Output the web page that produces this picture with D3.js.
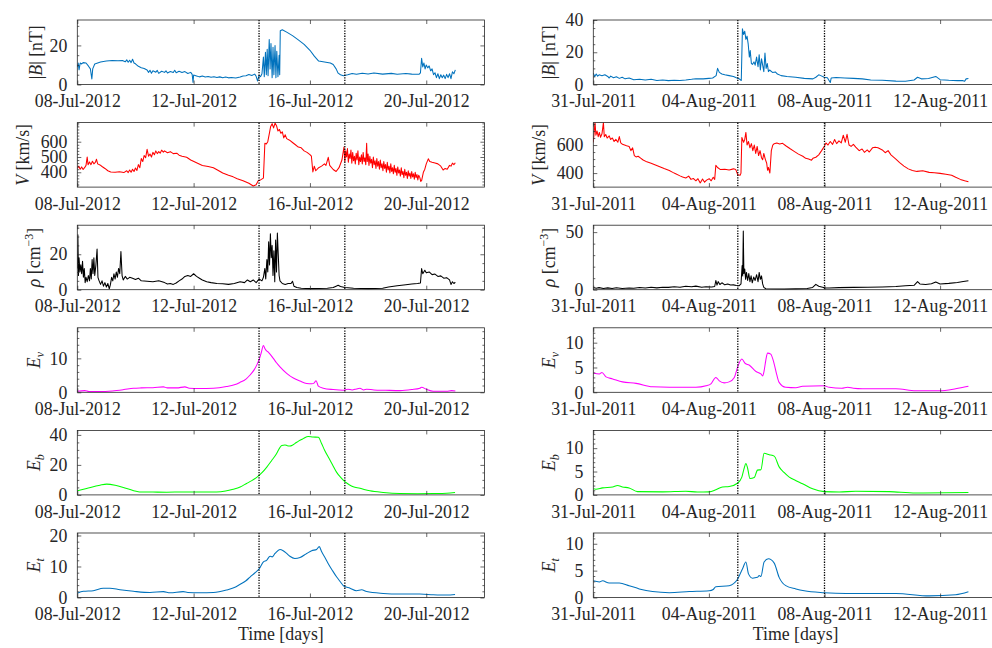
<!DOCTYPE html>
<html><head><meta charset="utf-8">
<script src="https://cdn.jsdelivr.net/npm/d3@7"></script>
<style>
body{margin:0;background:#fff}
svg{display:block}
text{fill:#262626}
</style>
</head><body>
<svg id="c" width="992" height="648"></svg>
<script>
// ---------------- DATA (day offset from column start, value) ----------------
const startL = [2012, 6, 8];   // 08-Jul-2012
const startR = [2011, 6, 31];  // 31-Jul-2011
const xTickDays = [0, 4, 8, 12];
const eventsL = [6.25, 9.2];
const eventsR = [5.0, 8.0];

const bL = [[0,9],[0.03,11],[0.06,7.5],[0.1,11],[0.15,10.5],[0.2,11.2],[0.3,11],[0.38,9.5],[0.45,8],[0.5,2.8],[0.53,8],[0.6,10.5],[0.7,11],[0.8,11.5],[0.9,11.8],[1.0,12],[1.2,12.3],[1.4,12.1],[1.55,12.3],[1.65,11.6],[1.7,12.6],[1.75,11.4],[1.8,12.4],[1.85,11.2],[1.9,12.9],[1.95,11],[2.0,10.6],[2.1,9.3],[2.2,8.6],[2.3,8.2],[2.4,7.4],[2.45,6.2],[2.5,7.3],[2.55,5.8],[2.6,7],[2.7,6.3],[2.75,7.2],[2.8,5.7],[2.9,6.8],[3.0,6.2],[3.05,7],[3.1,5.9],[3.2,6.6],[3.3,6.1],[3.35,7.3],[3.4,6],[3.5,6.8],[3.6,6.1],[3.7,6.6],[3.8,5.6],[3.9,6.2],[3.95,5.2],[3.98,1],[4.0,4.8],[4.1,4.4],[4.2,3.9],[4.3,4.3],[4.4,3.8],[4.5,4.1],[4.6,3.7],[4.7,4.0],[4.8,3.6],[4.9,3.9],[5.0,3.5],[5.1,3.8],[5.2,3.4],[5.3,3.6],[5.45,3.3],[5.6,3.8],[5.7,4.3],[5.8,4.5],[5.9,5.1],[6.0,4.6],[6.1,5.3],[6.15,4.2],[6.2,1.8],[6.25,4.6],[6.3,4],[6.35,5.5],[6.4,14],[6.43,4],[6.47,16.5],[6.5,5],[6.53,18],[6.56,4.5],[6.6,23],[6.63,8],[6.66,21],[6.7,3.5],[6.73,19],[6.76,5],[6.8,20],[6.83,3.5],[6.86,17],[6.9,4],[6.94,15],[6.96,5],[6.98,27.5],[7.05,28],[7.2,26.8],[7.4,25],[7.6,22.8],[7.8,20.5],[8.0,17.5],[8.15,14.5],[8.3,12],[8.5,11.5],[8.7,11],[8.8,10.2],[8.9,8],[8.97,5.8],[9.05,5],[9.15,4.5],[9.3,5],[9.45,5.6],[9.6,5.2],[9.8,5.8],[10,5.4],[10.2,5.9],[10.5,5.3],[10.8,5.7],[11,5.2],[11.3,5.6],[11.5,5.3],[11.75,5.2],[11.8,6],[11.84,13.4],[11.88,9],[11.92,11],[11.96,8],[12.0,10],[12.05,8.5],[12.1,9.5],[12.15,7],[12.2,8],[12.25,5],[12.3,6],[12.35,3.5],[12.4,5.5],[12.45,3],[12.5,5],[12.55,3.5],[12.6,4.8],[12.65,3],[12.7,5.2],[12.75,3.5],[12.8,5.5],[12.85,3],[12.9,6.5],[12.95,5.5],[13.0,7.5]];

const vL = [[0,425],[0.05,440],[0.1,420],[0.15,435],[0.2,418],[0.25,430],[0.3,445],[0.34,500],[0.37,450],[0.42,468],[0.47,450],[0.52,472],[0.57,455],[0.62,465],[0.66,485],[0.7,455],[0.78,448],[0.85,438],[0.95,425],[1.05,410],[1.15,402],[1.3,400],[1.45,403],[1.6,398],[1.7,410],[1.75,398],[1.8,415],[1.85,400],[1.9,420],[1.95,405],[2.0,428],[2.05,412],[2.1,450],[2.15,430],[2.2,490],[2.25,470],[2.3,510],[2.35,495],[2.4,550],[2.45,505],[2.5,520],[2.55,500],[2.6,530],[2.65,515],[2.7,540],[2.75,522],[2.8,535],[2.85,525],[2.9,545],[2.96,532],[3.0,540],[3.1,528],[3.2,535],[3.3,522],[3.42,525],[3.5,512],[3.6,505],[3.76,498],[3.9,480],[4.1,462],[4.3,445],[4.5,438],[4.68,430],[4.85,412],[5.0,395],[5.2,380],[5.36,370],[5.5,358],[5.7,345],[5.9,328],[6.05,310],[6.15,318],[6.22,345],[6.3,350],[6.4,362],[6.45,590],[6.5,585],[6.55,600],[6.6,650],[6.65,700],[6.7,718],[6.75,690],[6.8,722],[6.85,705],[6.9,670],[6.95,680],[7.0,655],[7.05,665],[7.1,625],[7.15,645],[7.2,620],[7.3,610],[7.4,595],[7.5,580],[7.6,565],[7.7,560],[7.8,540],[7.9,530],[8.0,515],[8.05,505],[8.1,402],[8.15,440],[8.2,410],[8.3,430],[8.4,440],[8.5,455],[8.55,445],[8.63,498],[8.68,445],[8.8,418],[8.9,405],[9.0,430],[9.1,480],[9.17,565],[9.2,470],[9.23,540],[9.26,500],[9.29,555],[9.32,465],[9.35,520],[9.38,490],[9.41,545],[9.44,460],[9.47,530],[9.5,475],[9.53,505],[9.56,455],[9.59,525],[9.62,480],[9.65,540],[9.68,450],[9.71,500],[9.74,470],[9.77,515],[9.8,455],[9.83,530],[9.86,470],[9.89,495],[9.92,450],[9.95,590],[9.97,470],[10.0,520],[10.03,445],[10.06,505],[10.09,460],[10.12,485],[10.15,430],[10.18,500],[10.21,450],[10.24,475],[10.27,425],[10.3,490],[10.33,440],[10.36,470],[10.39,420],[10.42,480],[10.45,430],[10.48,455],[10.51,410],[10.54,470],[10.57,425],[10.6,450],[10.63,400],[10.66,465],[10.69,415],[10.72,440],[10.75,395],[10.78,455],[10.81,405],[10.84,430],[10.87,390],[10.9,445],[10.93,400],[10.96,425],[10.99,380],[11.02,435],[11.05,395],[11.08,415],[11.11,375],[11.14,430],[11.17,385],[11.2,405],[11.23,365],[11.26,420],[11.29,380],[11.32,400],[11.35,360],[11.38,410],[11.41,375],[11.44,395],[11.47,360],[11.5,405],[11.53,370],[11.56,390],[11.59,355],[11.62,400],[11.65,365],[11.68,385],[11.71,350],[11.74,380],[11.78,365],[11.81,340],[11.84,345],[11.9,400],[11.95,420],[12.0,455],[12.07,488],[12.12,470],[12.2,465],[12.3,460],[12.4,455],[12.5,440],[12.58,415],[12.65,425],[12.72,420],[12.8,445],[12.85,440],[12.9,460],[12.95,450],[13.0,462]];

const rhoL = [[0,12],[0.02,31],[0.04,8],[0.06,18],[0.09,10],[0.12,14],[0.15,9],[0.18,16],[0.21,7],[0.24,12],[0.27,4],[0.3,7],[0.34,4.5],[0.38,8],[0.42,5],[0.45,12],[0.48,6],[0.51,17],[0.54,9],[0.57,18],[0.6,8],[0.64,14],[0.68,23],[0.71,7],[0.75,5],[0.8,3],[0.85,5],[0.9,2],[0.95,4],[1.0,1.5],[1.05,3.5],[1.1,0.5],[1.14,3],[1.18,7],[1.22,5],[1.26,9],[1.3,6],[1.34,10],[1.38,7],[1.42,12],[1.46,9],[1.5,21.5],[1.54,8],[1.58,5.5],[1.65,7.5],[1.72,6],[1.8,7],[1.9,6.5],[2.0,5.8],[2.1,6.5],[2.2,5],[2.4,4.8],[2.6,4.5],[2.8,5],[3.0,4],[3.1,3.2],[3.2,3.5],[3.3,3],[3.4,3.8],[3.5,5],[3.6,6],[3.7,7.5],[3.8,8],[3.9,7.5],[4.0,9],[4.1,7.5],[4.2,6.5],[4.3,5.5],[4.45,4.5],[4.6,4],[4.8,3.5],[5.0,3.4],[5.2,3],[5.4,3.5],[5.6,4.5],[5.75,4],[5.85,5.5],[5.95,4.5],[6.05,5.5],[6.15,4],[6.25,6],[6.35,5],[6.4,7],[6.45,12],[6.48,6],[6.52,17],[6.55,10],[6.58,27],[6.61,14],[6.64,31.5],[6.67,18],[6.7,25],[6.73,8],[6.76,22],[6.79,4.5],[6.82,28],[6.85,10],[6.88,32],[6.91,20],[6.94,8],[6.97,5],[7.05,3.5],[7.15,3],[7.25,3.5],[7.35,3.5],[7.4,4.8],[7.45,2],[7.55,1.2],[7.7,0.8],[8.0,0.6],[8.3,0.7],[8.6,0.8],[8.8,1.2],[8.9,2],[8.97,2.5],[9.05,1.8],[9.2,1.2],[9.5,0.8],[10,0.6],[10.5,0.8],[10.7,1.5],[11.0,2.2],[11.3,2.8],[11.5,3.2],[11.7,3.5],[11.8,3.8],[11.84,11.9],[11.88,9],[11.95,11],[12.0,9.5],[12.1,10],[12.2,8.5],[12.3,8.8],[12.4,7.5],[12.5,7.8],[12.6,6.5],[12.7,6.8],[12.8,5.5],[12.85,3],[12.9,4.5],[12.95,3.5],[13.0,4.2]];

const evL = [[0,0.3],[0.26,0.5],[0.4,0.2],[0.78,0.2],[1.2,0.4],[1.6,0.8],[1.93,1.2],[2.2,1.3],[2.6,1.35],[2.96,1.6],[3.1,1.3],[3.42,1.3],[3.7,1.6],[3.85,1.2],[4.2,1.1],[4.68,1.2],[5.13,1.7],[5.4,2.2],[5.59,2.9],[5.8,3.9],[5.94,5.1],[6.08,6.6],[6.17,8],[6.26,9.8],[6.33,11.8],[6.4,13.8],[6.45,12.9],[6.51,12.2],[6.56,11.9],[6.62,11.3],[6.74,10],[6.85,8.7],[6.97,7.5],[7.2,5.6],[7.43,4.2],[7.66,3.3],[7.89,2.6],[8.06,2.5],[8.15,2.8],[8.21,3.4],[8.29,1.8],[8.46,1.2],[8.8,0.8],[9.15,0.6],[9.3,0.9],[9.45,0.7],[9.6,1.0],[9.72,1.2],[9.85,0.7],[9.95,0.9],[10.2,0.7],[10.6,0.6],[11.1,0.5],[11.5,0.8],[11.78,1.2],[11.84,1.5],[12.0,0.9],[12.24,0.3],[12.7,0.3],[12.87,0.5],[13.0,0.4]];

const ebL = [[0,2.7],[0.32,4.3],[0.78,6.5],[1.01,7.2],[1.3,6.5],[1.7,4.3],[2.15,2],[2.6,1.9],[3.07,1.8],[3.64,2],[4.2,2],[4.79,2],[5.1,2.6],[5.36,3.8],[5.6,5.3],[5.82,7.6],[6.0,9.5],[6.17,11.7],[6.35,14.8],[6.51,18.4],[6.68,22.8],[6.85,27.4],[6.95,31],[7.03,33],[7.14,33.3],[7.22,32.8],[7.31,32.6],[7.4,33.2],[7.48,34.2],[7.62,36],[7.77,37.5],[7.94,39],[8.1,38.6],[8.29,38.4],[8.4,34.2],[8.5,30],[8.63,25.2],[8.78,20],[8.92,15],[9.05,11.8],[9.2,8.8],[9.35,6.8],[9.49,5.4],[9.72,4.5],[9.9,3.4],[10.06,2.7],[10.52,1.6],[11.09,0.9],[11.7,0.8],[12.24,0.9],[12.7,1.1],[12.99,1.6]];

const etL = [[0,1.4],[0.21,2],[0.55,2.2],[0.89,3],[1.12,3],[1.47,2.5],[1.93,2],[2.5,1.6],[2.96,1.9],[3.19,1.5],[3.64,1.9],[3.8,1.6],[4.22,1.5],[4.68,1.6],[5.13,2.4],[5.4,3.2],[5.59,4.2],[5.8,5.4],[5.94,6.6],[6.1,7.9],[6.26,9.3],[6.4,11.5],[6.51,12],[6.63,13.3],[6.7,13.1],[6.8,14.2],[6.97,15.5],[7.08,15.1],[7.2,14.2],[7.31,13.3],[7.48,12.6],[7.66,12.9],[7.89,14.2],[8.06,15.1],[8.23,15.5],[8.32,16.4],[8.4,14.8],[8.52,12.8],[8.63,10.9],[8.78,8.6],[8.92,6.6],[9.05,5],[9.15,3.8],[9.38,3],[9.6,2.2],[9.78,2.5],[9.95,1.9],[10.52,1.3],[11.09,1.1],[11.78,1.1],[12.24,0.9],[12.7,0.8],[12.99,1.0]];

const bR = [[0,7],[0.05,5],[0.1,6.5],[0.15,5.2],[0.2,6],[0.3,5.5],[0.4,6],[0.5,5],[0.55,4],[0.6,5.2],[0.7,4.2],[0.8,4.8],[0.9,3.8],[1.0,4.5],[1.1,3.5],[1.24,4],[1.4,3],[1.6,3.3],[1.8,2.8],[2.0,3.2],[2.2,2.5],[2.4,2.8],[2.6,2.4],[2.8,2.6],[3.0,2.5],[3.2,2.8],[3.4,3.2],[3.55,3.6],[3.8,3.5],[4.0,3.8],[4.13,4],[4.25,5.5],[4.3,10],[4.36,7.5],[4.45,6.5],[4.55,6],[4.7,5.5],[4.85,5],[4.95,4.2],[5.05,3.5],[5.12,2.5],[5.16,34.5],[5.2,31],[5.24,33],[5.28,28],[5.32,30],[5.36,25],[5.4,17],[5.43,21],[5.47,13],[5.51,12.5],[5.56,14],[5.6,12],[5.65,17],[5.7,11],[5.74,18.5],[5.78,9],[5.82,16],[5.86,12],[5.9,8],[5.94,19.5],[5.98,10],[6.02,13],[6.06,8],[6.1,9],[6.2,7.5],[6.3,7.8],[6.37,6.5],[6.5,5.5],[6.7,5],[7.0,4.5],[7.3,3.8],[7.6,3.5],[7.7,4.5],[7.8,6],[7.87,5.5],[7.99,4.5],[8.1,4.2],[8.2,1.2],[8.23,4],[8.4,4.3],[8.7,4],[9.0,3.8],[9.31,3.5],[9.6,2.8],[10.0,2.6],[10.47,2.1],[10.8,2],[11.1,2.8],[11.22,4.5],[11.35,3.5],[11.6,3.7],[11.85,5],[12.0,3],[12.3,2.6],[12.6,2.4],[12.77,2.5],[12.85,2],[12.9,3.5],[12.98,3.7]];

const vR = [[0,619],[0.03,690],[0.06,760],[0.09,670],[0.13,700],[0.17,660],[0.21,690],[0.25,655],[0.3,680],[0.35,760],[0.38,660],[0.43,675],[0.48,650],[0.55,665],[0.6,640],[0.66,650],[0.72,625],[0.78,640],[0.85,620],[0.9,660],[0.95,615],[1.01,605],[1.08,600],[1.15,595],[1.24,590],[1.3,560],[1.36,580],[1.42,525],[1.48,515],[1.55,520],[1.65,505],[1.71,495],[1.85,480],[2.0,470],[2.15,458],[2.3,445],[2.45,432],[2.63,418],[2.75,405],[2.85,395],[3.0,380],[3.09,372],[3.2,365],[3.3,378],[3.38,355],[3.46,362],[3.55,345],[3.62,360],[3.7,330],[3.78,358],[3.85,335],[3.92,350],[4.01,360],[4.08,345],[4.15,370],[4.2,355],[4.24,455],[4.3,440],[4.4,425],[4.55,428],[4.7,422],[4.85,430],[4.93,425],[5.0,388],[5.08,384],[5.11,400],[5.14,654],[5.2,620],[5.24,640],[5.28,690],[5.32,600],[5.37,625],[5.42,580],[5.47,610],[5.52,560],[5.57,600],[5.62,540],[5.67,590],[5.72,525],[5.77,560],[5.82,510],[5.86,495],[5.9,540],[5.95,500],[6.0,470],[6.03,420],[6.06,440],[6.11,400],[6.16,560],[6.21,600],[6.26,610],[6.35,615],[6.45,608],[6.55,612],[6.66,595],[6.8,575],[6.95,555],[7.1,535],[7.25,520],[7.35,505],[7.45,500],[7.55,492],[7.6,505],[7.7,513],[7.8,530],[7.9,560],[7.99,590],[8.05,615],[8.12,600],[8.2,625],[8.28,605],[8.35,640],[8.42,610],[8.5,630],[8.58,615],[8.65,670],[8.72,620],[8.78,677],[8.85,600],[8.92,590],[9.0,605],[9.08,585],[9.2,560],[9.3,572],[9.38,548],[9.48,565],[9.55,550],[9.66,580],[9.75,585],[9.85,580],[10.0,565],[10.1,545],[10.2,560],[10.3,530],[10.47,500],[10.6,475],[10.75,450],[10.9,430],[11.04,419],[11.2,412],[11.4,416],[11.62,405],[11.8,403],[12.0,398],[12.2,392],[12.4,385],[12.54,370],[12.7,355],[12.85,345],[12.98,338]];

const rhoR = [[0,2],[0.1,1.2],[0.2,1.8],[0.35,1.1],[0.5,1.6],[0.65,1.0],[0.8,1.7],[1.0,1.1],[1.24,1.5],[1.4,1.2],[1.6,1.9],[1.8,1.4],[2.0,2.1],[2.2,1.6],[2.4,2.2],[2.6,2.0],[2.8,2.6],[3.0,2.2],[3.2,3.0],[3.4,2.5],[3.55,3.1],[3.75,2.2],[3.9,2.6],[4.1,2.3],[4.2,2.8],[4.24,8],[4.28,4],[4.32,7],[4.38,4.5],[4.45,6],[4.55,4.2],[4.65,5],[4.75,4],[4.85,4.2],[4.95,3.7],[5.05,3.5],[5.11,5],[5.15,21],[5.17,12],[5.19,51],[5.21,14],[5.24,18],[5.27,9],[5.3,15],[5.34,8],[5.38,14],[5.42,7],[5.46,12],[5.5,6],[5.55,11],[5.6,8],[5.65,13],[5.7,7],[5.74,15],[5.78,9],[5.82,12],[5.86,5],[5.9,2],[5.97,0.8],[6.2,0.6],[6.6,0.5],[7.0,0.7],[7.4,1.0],[7.59,2],[7.7,4.6],[7.8,3],[8.0,1.6],[8.16,1.4],[8.5,1.8],[9.0,2],[9.5,2.2],[10.0,2.4],[10.47,2.8],[10.8,3.4],[11.1,3.8],[11.22,7],[11.3,5],[11.5,4.6],[11.7,5.2],[11.85,6.6],[12.0,5],[12.3,5.5],[12.6,6.3],[12.8,7.2],[12.98,7.8]];

const evR = [[0,3.9],[0.21,3.7],[0.3,4.0],[0.44,3.1],[0.67,2.7],[1.01,2.1],[1.48,1.8],[2.05,1.1],[2.63,1.0],[3.55,1.0],[3.9,1.3],[4.07,1.7],[4.24,3.0],[4.36,2.3],[4.53,1.9],[4.7,2.1],[4.88,3.0],[4.99,5.0],[5.14,6.7],[5.26,5.8],[5.39,5.5],[5.63,4.2],[5.8,3.7],[5.86,3.3],[5.91,4.3],[5.97,6.5],[6.03,7.9],[6.14,7.7],[6.26,5.7],[6.35,3.5],[6.43,2.0],[6.66,1.0],[7.01,0.9],[7.24,1.2],[7.99,1.3],[8.16,1.0],[8.6,0.8],[8.8,1.0],[9.0,0.8],[9.31,0.7],[10.47,0.7],[11.16,0.3],[11.97,0.3],[12.54,0.7],[12.98,1.2]];

const ebR = [[0,1.3],[0.09,1.2],[0.32,1.5],[0.67,1.7],[0.84,2.0],[1.01,1.7],[1.24,1.5],[1.53,0.7],[2.4,0.65],[3.2,0.8],[3.6,0.6],[4.01,0.65],[4.24,1.1],[4.47,1.7],[4.7,1.8],[4.99,2.5],[5.14,3.8],[5.22,5.7],[5.28,6.7],[5.34,5.7],[5.42,3.5],[5.57,3.7],[5.68,5.3],[5.8,5.4],[5.91,8.9],[6.09,8.6],[6.26,8.3],[6.43,6],[6.6,4.8],[6.78,3.8],[7.0,3.1],[7.24,2.4],[7.59,1.3],[7.99,0.7],[8.51,0.6],[9.08,0.8],[10.24,0.7],[11.16,0.4],[12.98,0.5]];

const etR = [[0,3.1],[0.21,2.9],[0.32,3.1],[0.55,2.7],[0.9,2.7],[1.24,2.2],[1.59,1.6],[2.05,1.1],[2.63,0.9],[3.32,1.1],[4.01,1.25],[4.15,1.5],[4.24,2.0],[4.7,2.2],[4.99,3.4],[5.16,5.3],[5.28,6.6],[5.37,4.4],[5.51,3.6],[5.68,3.75],[5.74,4.1],[5.8,3.9],[5.91,6.6],[6.06,7.2],[6.26,6.4],[6.43,3.75],[6.66,2.2],[7.01,1.6],[7.3,1.25],[7.99,0.9],[8.74,0.75],[10.47,0.75],[11.62,0.3],[12.54,0.5],[12.98,1.05]];

// y-axis ranges and tick values
const yDomL = [[0,33],[303,725],[0,36.4],[0,19],[0,43],[0,20.8]];
const yDomR = [[0,40],[300,760],[0,56],[0,13],[0,13.8],[0,12]];
const yTicksL = [[0,20],[400,500,600],[0,20],[0,10],[0,20,40],[0,10,20]];
const yTicksR = [[0,20,40],[400,600],[0,50],[0,5,10],[0,5,10],[0,5,10]];
const yMinorL = [5,20,5,2,5,2];
const yMinorR = [5,50,10,1,1,1];

// ---------------- STYLE / LAYOUT ----------------
const colors = ["#0072BD","#FF0000","#000000","#FF00FF","#00FF00","#0072BD"];
const labelKinds = ["B","V","rho","Ev","Eb","Et"];
const seriesL = [bL, vL, rhoL, evL, ebL, etL];
const seriesR = [bR, vR, rhoR, evR, ebR, etR];
const axisCol = "#262626";
const FAM = '"Liberation Serif", Tinos, "Times New Roman", Times, "DejaVu Serif", "Noto Serif", FreeSerif, Georgia, serif';
const top0 = 20, rowStep = 102.6, ph = 64.5;

const svg = d3.select("#c");
const DAY = 864e5;

const probe = svg.append("text").attr("font-size", 18).style("font-family", FAM).text("08-Jul-2012");
const pw = probe.node().getComputedTextLength();
probe.remove();
const FS = Math.max(12, Math.min(19, 18 * 86 / (pw || 86)));
const FSsmall = FS * 0.68;

const cols = [
  {start: startL, x0: 77.3, ppd: 29.08, events: eventsL, series: seriesL, dom: yDomL, ticks: yTicksL, minor: yMinorL,
   lab: {B:35, V:48, rho:37, Ev:37, Eb:37, Et:37}},
  {start: startR, x0: 593.3, ppd: 28.9, events: eventsR, series: seriesR, dom: yDomR, ticks: yTicksR, minor: yMinorR,
   lab: {B:38, V:48, rho:38, Ev:38, Eb:38, Et:38}}
];

function addLabel(t, kind){
  const it = s => t.append("tspan").attr("font-style","italic").text(s);
  const rm = s => t.append("tspan").text(s);
  if(kind==="B"){ rm("|"); it("B"); rm("| [nT]"); }
  else if(kind==="V"){ it("V"); rm(" [km/s]"); }
  else if(kind==="rho"){ it("ρ"); rm(" [cm"); t.append("tspan").attr("font-size",FSsmall).attr("dy",-7).text("−3"); t.append("tspan").attr("dy",7).text("]"); }
  else {
    const sub = {Ev:"v", Eb:"b", Et:"t"}[kind];
    it("E"); t.append("tspan").attr("font-style","italic").attr("font-size",FSsmall).attr("dy",4).text(sub);
  }
}

cols.forEach((c, ci) => {
  const s0 = new Date(Date.UTC(c.start[0], c.start[1], c.start[2]));
  const w = 14 * c.ppd;
  const x = d3.scaleUtc().domain([s0, new Date(+s0 + 14*DAY)]).range([0, w]);
  const toDate = d => new Date(+s0 + d*DAY);
  const tickDates = xTickDays.map(toDate);

  c.series.forEach((data, ri) => {
    const y0 = top0 + ri*rowStep;
    const g = svg.append("g").attr("transform", `translate(${c.x0},${y0})`);
    const y = d3.scaleLinear().domain(c.dom[ri]).range([ph, 0]);
    const cid = `clip${ci}_${ri}`;
    g.append("clipPath").attr("id", cid).append("rect").attr("width", w).attr("height", ph);

    const line = d3.line().x(d => x(toDate(d[0]))).y(d => y(d[1]));
    if (ri >= 3) line.curve(d3.curveMonotoneX);
    g.append("path").datum(data).attr("clip-path", `url(#${cid})`)
      .attr("fill","none").attr("stroke", colors[ri]).attr("stroke-width", 1.05)
      .attr("stroke-linejoin","round").attr("d", line);

    g.selectAll(".ev").data(c.events).join("line")
      .attr("x1", d => x(toDate(d))).attr("x2", d => x(toDate(d)))
      .attr("y1", 0).attr("y2", ph)
      .attr("stroke", "#000").attr("stroke-width", 1.3).attr("stroke-dasharray", "1.3,1.3");

    const dom = c.dom[ri];
    const mstep = c.minor[ri];
    const minorVals = d3.range(Math.ceil(dom[0]/mstep)*mstep, dom[1], mstep).filter(v => !c.ticks[ri].includes(v));

    const style = sel => { sel.select(".domain").remove(); sel.attr("font-family", null); sel.selectAll("line").attr("stroke", axisCol).attr("stroke-width", 0.7); sel.selectAll("text").attr("fill", axisCol).attr("font-size", FS).style("font-family", FAM); };

    g.append("g").attr("transform", `translate(0,${ph})`)
      .call(d3.axisBottom(x).tickValues(tickDates).tickFormat(d3.utcFormat("%d-%b-%Y")).tickSizeInner(-4).tickSizeOuter(0).tickPadding(10))
      .call(style);
    g.append("g")
      .call(d3.axisTop(x).tickValues(tickDates).tickFormat("").tickSizeInner(-4).tickSizeOuter(0))
      .call(style);
    g.append("g")
      .call(d3.axisLeft(y).tickValues(c.ticks[ri]).tickFormat(d3.format("d")).tickSizeInner(-4).tickSizeOuter(0).tickPadding(10))
      .call(style);
    g.append("g").attr("transform", `translate(${w},0)`)
      .call(d3.axisRight(y).tickValues(c.ticks[ri]).tickFormat("").tickSizeInner(-4).tickSizeOuter(0))
      .call(style);
    g.append("g")
      .call(d3.axisLeft(y).tickValues(minorVals).tickFormat("").tickSizeInner(-2).tickSizeOuter(0))
      .call(style);
    g.append("g").attr("transform", `translate(${w},0)`)
      .call(d3.axisRight(y).tickValues(minorVals).tickFormat("").tickSizeInner(-2).tickSizeOuter(0))
      .call(style);

    g.append("rect").attr("width", w).attr("height", ph)
      .attr("fill","none").attr("stroke", axisCol).attr("stroke-width", 0.8);

    const kind = labelKinds[ri];
    const t = g.append("text").attr("font-size", FS).style("font-family", FAM).attr("text-anchor","middle")
      .attr("transform", `translate(${-c.lab[kind]},${ph/2}) rotate(-90)`);
    addLabel(t, kind);
  });

  svg.append("text").attr("x", c.x0 + w/2).attr("y", 640).attr("text-anchor","middle")
    .attr("font-size", FS).style("font-family", FAM).text("Time [days]");
});
</script>
</body></html>
